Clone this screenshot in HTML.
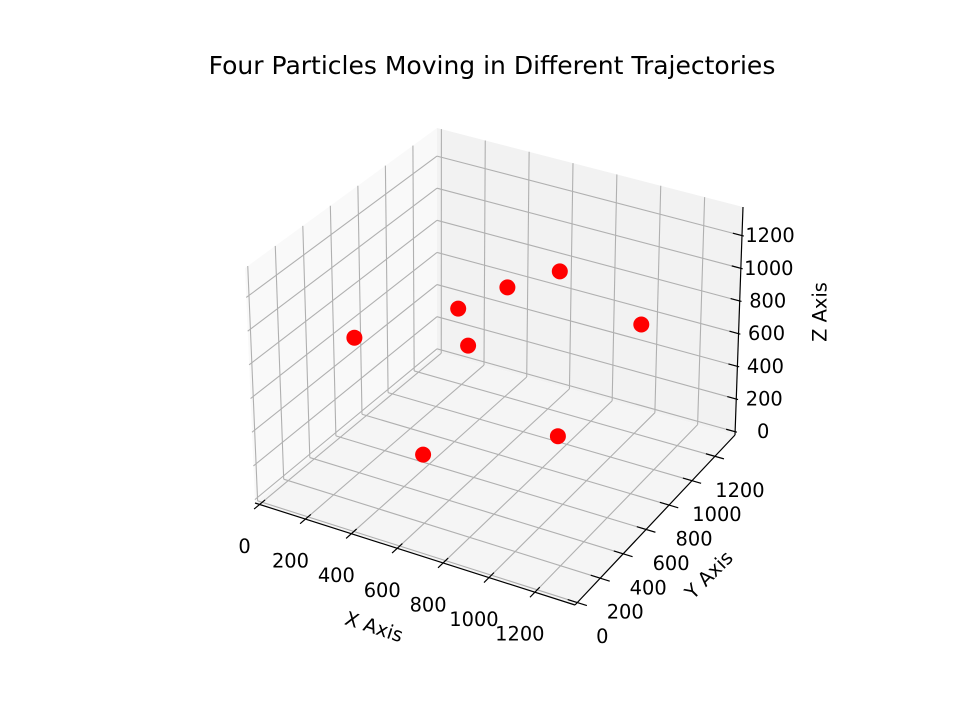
<!DOCTYPE html>
<html><head><meta charset="utf-8"><style>
html,body{margin:0;padding:0;background:#fff;}
svg{display:block;font-family:"DejaVu Sans","Liberation Sans",sans-serif;}
</style></head><body>
<svg id="chart" width="960" height="720" viewBox="0 0 960 720">
<rect width="960" height="720" fill="#fff"/>
<text x="492" y="74" font-size="25" text-anchor="middle" fill="#000">Four Particles Moving in Different Trajectories</text>
<g id="panes"></g><g id="grid"></g><g id="axes"></g><g id="points"></g>
</svg>
<script>
const xValues = [216, 433, 534, 527, 613, 726, 824, 1040];
const yValues = [365, 496, 612, 696, 855, 1067, 884, 1171];
const zValues = [817, 120, 957, 678, 957, 957, 120, 678];
const tickValues = [0, 200, 400, 600, 800, 1000, 1200];
const tickLabels = ["0", "200", "400", "600", "800", "1000", "1200"];

const LO = -20, HI = 1375;
const C = {
  "000":[255,503],"100":[575,605],"110":[735,435],"010":[437,352],
  "001":[245,268],"101":[568,360],"111":[743,207],"011":[437,128]
};
function f(v){return (v-LO)/(HI-LO);}
function proj(x,y,z){
  const u=f(x),v=f(y),w=f(z);
  let px=0,py=0;
  for(const i of [0,1])for(const j of [0,1])for(const k of [0,1]){
    const wt=(i?u:1-u)*(j?v:1-v)*(k?w:1-w);
    const c=C[""+i+j+k];px+=wt*c[0];py+=wt*c[1];
  }
  return [px,py];
}
const NS="http://www.w3.org/2000/svg";
function mk(tag,attrs,parent){const e=document.createElementNS(NS,tag);for(const a in attrs)e.setAttribute(a,attrs[a]);document.getElementById(parent).appendChild(e);return e;}
function poly(pts){return pts.map(p=>p[0].toFixed(1)+","+p[1].toFixed(1)).join(" ");}

let e;
e=mk("polygon",{points:poly([proj(LO,LO,LO),proj(LO,HI,LO),proj(LO,HI,HI),proj(LO,LO,HI)]),fill:"#f9f9f9"},"panes");


e=mk("polygon",{points:poly([proj(LO,HI,LO),proj(HI,HI,LO),proj(HI,HI,HI),proj(LO,HI,HI)]),fill:"#f2f2f2"},"panes");


e=mk("polygon",{points:poly([proj(LO,LO,LO),proj(HI,LO,LO),proj(HI,HI,LO),proj(LO,HI,LO)]),fill:"#f5f5f5"},"panes");



function line(a,b,parent,stroke,sw){return mk("line",{x1:a[0],y1:a[1],x2:b[0],y2:b[1],stroke:stroke,"stroke-width":sw},parent);}
tickValues.forEach(t=>{
  e=line(proj(t,LO,LO),proj(t,HI,LO),"grid","#b0b0b0",1.1);
  
  
  e=line(proj(t,HI,LO),proj(t,HI,HI),"grid","#b0b0b0",1.1);
  
  
  e=line(proj(LO,t,LO),proj(HI,t,LO),"grid","#b0b0b0",1.1);
  
  
  e=line(proj(LO,t,LO),proj(LO,t,HI),"grid","#b0b0b0",1.1);
  
  
  e=line(proj(LO,LO,t),proj(LO,HI,t),"grid","#b0b0b0",1.1);
  
  
  e=line(proj(LO,HI,t),proj(HI,HI,t),"grid","#b0b0b0",1.1);
  
  
});
e=line(proj(LO,LO,LO),proj(HI,LO,LO),"axes","#000",1.2);


e=line(proj(HI,LO,LO),proj(HI,HI,LO),"axes","#000",1.2);


e=line(proj(HI,HI,LO),proj(HI,HI,HI),"axes","#000",1.2);



function text(x,y,s,parent,extra){const t=mk("text",Object.assign({x:x,y:y,"font-size":"19.4","text-anchor":"middle","dominant-baseline":"central",fill:"#000"},extra||{}),parent);t.textContent=s;return t;}
const d=(HI-LO)*0.03;
tickValues.forEach((t,i)=>{
  e=line(proj(t,LO-d,LO),proj(t,LO+d,LO),"axes","#000",1.2);
  
  
  let p=proj(t,LO,LO);
  e=text(p[0]-15,p[1]+42,tickLabels[i],"axes");
  
  
  e=line(proj(HI+d,t,LO),proj(HI-d,t,LO),"axes","#000",1.2);
  
  
  p=proj(HI,t,LO);
  e=text(p[0]+25,p[1]+34,tickLabels[i],"axes");
  
  
  e=line(proj(HI-d,HI,t),proj(HI+d*0.2,HI,t),"axes","#000",1.2);
  
  
  p=proj(HI,HI,t);
  e=text(p[0]+28,p[1],tickLabels[i],"axes");
  
  
});
e=text(374,627,"X Axis","axes",{transform:"rotate(18 374 627)"});


e=text(709,575,"Y Axis","axes",{transform:"rotate(-45 709 575)"});


e=text(820,312,"Z Axis","axes",{transform:"rotate(-90 820 312)"});



xValues.forEach((x,i)=>{
  const p=proj(x,yValues[i],zValues[i]);
  const c=mk("circle",{cx:p[0].toFixed(1),cy:p[1].toFixed(1),r:8,fill:"#ff0000"},"points");
  
  
});
</script>
</body></html>
